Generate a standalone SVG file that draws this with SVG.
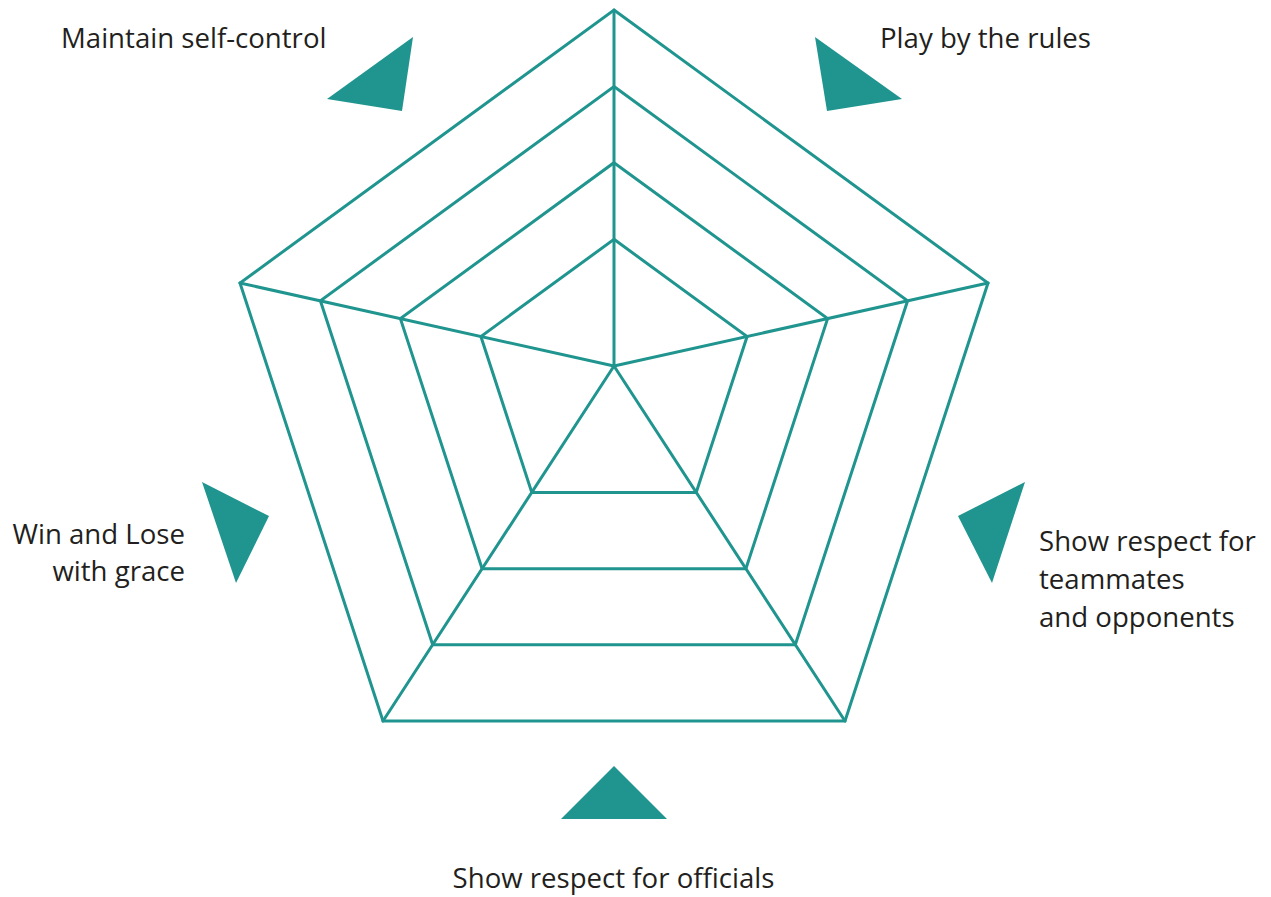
<svg xmlns="http://www.w3.org/2000/svg" width="1271" height="897" viewBox="0 0 1271 897">
<style>
.ring{fill:none;stroke:#20958f;stroke-width:3;stroke-linejoin:miter}
.spoke{stroke:#20958f;stroke-width:3;stroke-linecap:round}
.tri{fill:#20958f}
.lbl{font-family:"Open Sans","Noto Sans",sans-serif;font-size:27.6px;fill:#231f20}
</style>
<rect width="1271" height="897" fill="#ffffff"/>
<g id="rings">
<polygon class="ring" points="614,10 988,283 845,721 383,721 240,283"/>
<polygon class="ring" points="614,86.5 907.6,300.8 795.3,644.7 432.7,644.7 320.4,300.8"/>
<polygon class="ring" points="614,162.7 827.6,318.6 745.9,568.7 482.1,568.7 400.4,318.6"/>
<polygon class="ring" points="614,239.3 747.1,336.5 696.2,492.4 531.8,492.4 480.9,336.5"/>
</g>
<g id="connectors">
<line class="spoke" x1="614" y1="366" x2="614" y2="10"/>
<line class="spoke" x1="614" y1="366" x2="988" y2="283"/>
<line class="spoke" x1="614" y1="366" x2="845" y2="721"/>
<line class="spoke" x1="614" y1="366" x2="383" y2="721"/>
<line class="spoke" x1="614" y1="366" x2="240" y2="283"/>
</g>
<g id="node-self-control">
<polygon class="tri" points="413,37 327,99 402,111"/>
<text class="lbl" x="61" y="48">Maintain self-control</text>
</g>
<g id="node-rules">
<polygon class="tri" points="815,37 902,99 827,111"/>
<text class="lbl" x="880" y="48">Play by the rules</text>
</g>
<g id="node-teammates">
<polygon class="tri" points="1025,482 958,516 992,583"/>
<text class="lbl" x="1039" y="551">Show respect for</text>
<text class="lbl" x="1039" y="589">teammates</text>
<text class="lbl" x="1039" y="627">and opponents</text>
</g>
<g id="node-officials">
<polygon class="tri" points="614,766 561,819 667,819"/>
<text class="lbl" x="613.5" y="888" text-anchor="middle">Show respect for officials</text>
</g>
<g id="node-grace">
<polygon class="tri" points="202,482 269,516 236,583"/>
<text class="lbl" x="185" y="544" text-anchor="end">Win and Lose</text>
<text class="lbl" x="185" y="581" text-anchor="end">with grace</text>
</g>
</svg>
